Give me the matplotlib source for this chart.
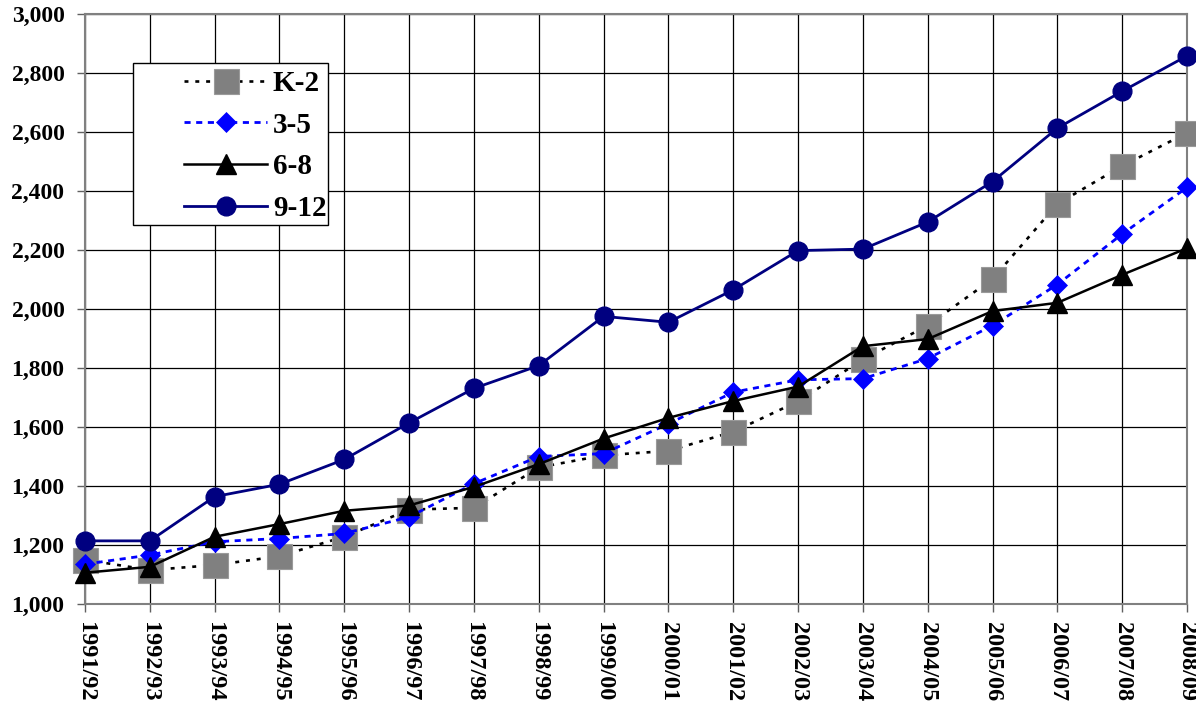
import matplotlib
matplotlib.use("Agg")
import matplotlib.pyplot as plt
from matplotlib.patches import Rectangle
from matplotlib.ticker import FuncFormatter
import numpy as np

years = ["1991/92", "1992/93", "1993/94", "1994/95", "1995/96", "1996/97",
         "1997/98", "1998/99", "1999/00", "2000/01", "2001/02", "2002/03",
         "2003/04", "2004/05", "2005/06", "2006/07", "2007/08", "2008/09"]

k_2 = [1150, 1115, 1132, 1162, 1228, 1320, 1326, 1463, 1504, 1519, 1584, 1687,
       1829, 1944, 2102, 2356, 2485, 2597]
g3_5 = [1135, 1166, 1211, 1222, 1239, 1295, 1408, 1500, 1510, 1611, 1718, 1760,
        1764, 1832, 1944, 2083, 2254, 2412]
g6_8 = [1106, 1126, 1228, 1271, 1316, 1334, 1397, 1474, 1561, 1631, 1688, 1737,
        1874, 1898, 1993, 2021, 2116, 2206]
g9_12 = [1214, 1214, 1364, 1406, 1490, 1614, 1731, 1808, 1975, 1955, 2065, 2198,
         2203, 2295, 2432, 2613, 2738, 2858]

plt.rcParams["font.family"] = ["Liberation Serif", "DejaVu Serif"]
plt.rcParams["font.weight"] = "bold"

W, H = 1196, 706
fig = plt.figure(figsize=(W / 100, H / 100), dpi=100)
ax = fig.add_axes([85 / W, 1 - 604 / H, 1102 / W, 590 / H])

x = np.arange(len(years))

ax.plot(x, k_2, color="black", lw=1.9, linestyle=(0, (1.5, 2.6)),
        marker="s", ms=18, mfc="#808080", mec="#9a9a9a", mew=0.8,
        label="K-2", clip_on=False, zorder=3)
ax.plot(x, g3_5, color="#0000ff", lw=2, linestyle=(0, (2.2, 2)),
        marker="D", ms=10.5, mfc="#0000ff", mec="#0000ff", mew=0.5,
        label="3-5", clip_on=False, zorder=4)
ax.plot(x, g6_8, color="black", lw=1.8, linestyle="-",
        marker="^", ms=14, mfc="black", mec="black",
        label="6-8", clip_on=False, zorder=5)
ax.plot(x, g9_12, color="#000080", lw=2, linestyle="-",
        marker="o", ms=13.5, mfc="#000080", mec="#000080",
        label="9-12", clip_on=False, zorder=6)

ax.set_xlim(0, len(years) - 1)
ax.set_ylim(1000, 3000)
ax.set_yticks(np.arange(1000, 3001, 200))
ax.yaxis.set_major_formatter(FuncFormatter(lambda v, p: f"{int(v):,}"))
ax.set_xticks(x)
ax.set_xticklabels(years, rotation=270, fontsize=17.5, fontweight="bold")
for lab in ax.get_yticklabels():
    lab.set_fontsize(17)
    lab.set_fontweight("bold")

ax.grid(True, color="black", lw=0.9)
ax.set_axisbelow(True)
ax.tick_params(axis="y", direction="out", length=5.8, width=1, color="#606060", pad=9)
ax.tick_params(axis="x", direction="out", length=5.8, width=1, color="#606060", pad=7.5)
for s in ax.spines.values():
    s.set_color("#808080")
    s.set_linewidth(1.5)

# legend box drawn by hand so its padding matches the original
frame = Rectangle((133 / W, 1 - 225 / H), 195 / W, 162 / H, transform=fig.transFigure,
                  facecolor="white", edgecolor="black", lw=1, zorder=7)
ax.add_patch(frame)
leg = ax.legend(loc="upper left", bbox_to_anchor=(184 / W, 1 - 70 / H),
                bbox_transform=fig.transFigure, frameon=False,
                fontsize=21, borderpad=0, borderaxespad=0,
                handlelength=2.85, handletextpad=0.2, labelspacing=0.5)
leg.set_zorder(8)
for t in leg.get_texts():
    t.set_fontweight("bold")

fig.savefig("out.png", dpi=100)
